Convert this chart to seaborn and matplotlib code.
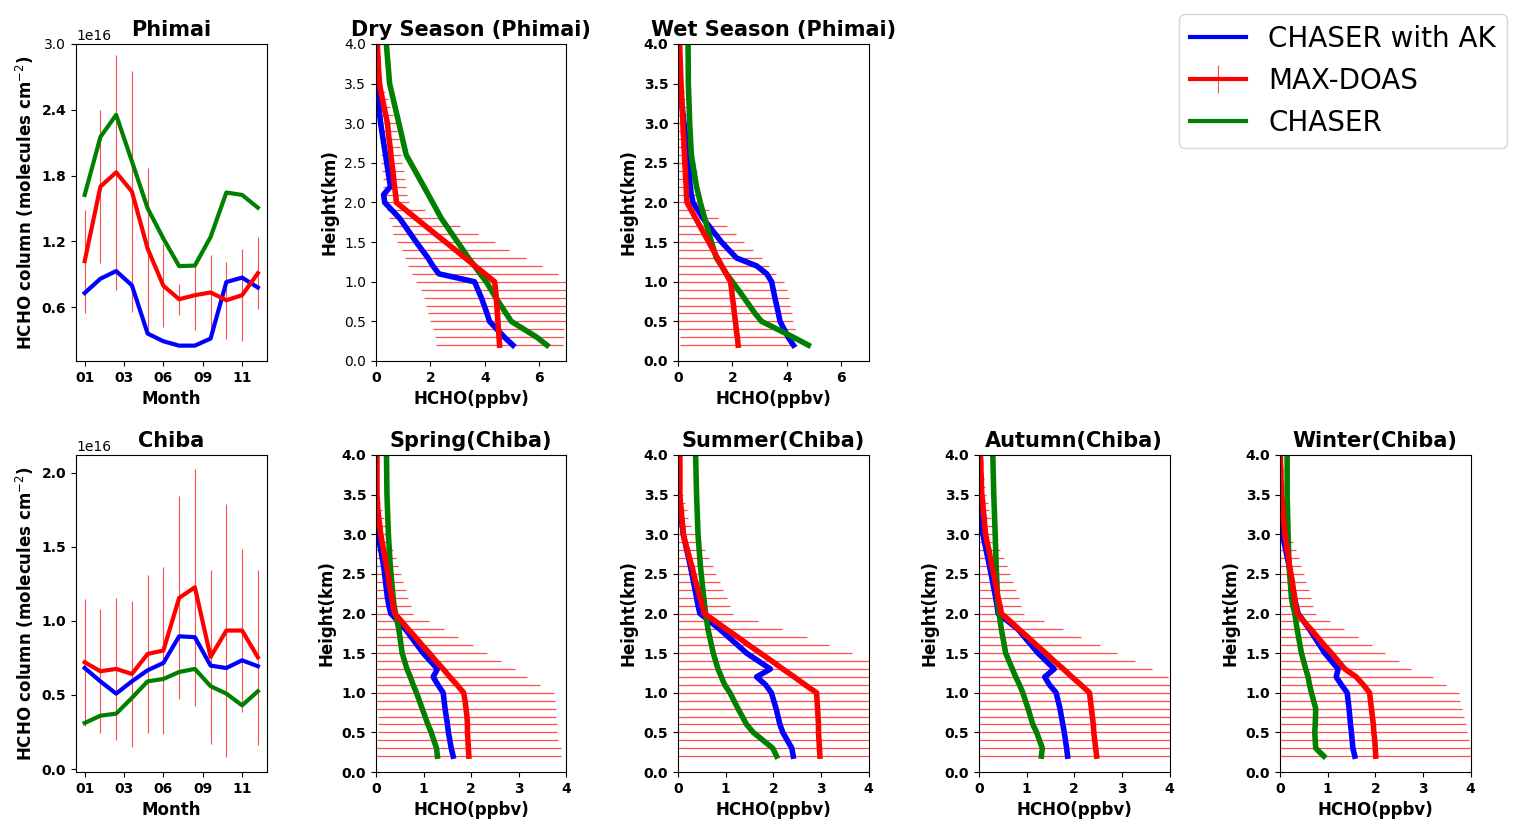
import numpy as np
import matplotlib
matplotlib.use("Agg")
import matplotlib.pyplot as plt
import seaborn as sns

# ---- monthly columns (units of 1e16 molecules cm-2) ----
month_ticks = [0, 2.5, 5, 7.5, 10]
month_labels = ["01", "03", "06", "09", "11"]
month_idx = list(range(12))

phimai_ak = [0.73, 0.86, 0.93, 0.80, 0.36, 0.29, 0.25, 0.25, 0.315, 0.83, 0.87, 0.78]
phimai_doas = [1.02, 1.70, 1.83, 1.655, 1.134, 0.796, 0.673, 0.71, 0.735, 0.664, 0.71, 0.91]
phimai_doas_err = [0.47, 0.70, 1.07, 1.10, 0.74, 0.38, 0.14, 0.32, 0.34, 0.35, 0.42, 0.33]
phimai_chaser = [1.624, 2.152, 2.354, 1.931, 1.502, 1.226, 0.975, 0.98, 1.241, 1.646, 1.624, 1.508]

chiba_ak = [0.682, 0.592, 0.509, 0.592, 0.667, 0.716, 0.896, 0.890, 0.698, 0.682, 0.734, 0.694]
chiba_doas = [0.721, 0.660, 0.676, 0.642, 0.777, 0.800, 1.155, 1.227, 0.757, 0.935, 0.935, 0.755]
chiba_doas_err = [0.43, 0.42, 0.48, 0.49, 0.535, 0.565, 0.685, 0.80, 0.59, 0.856, 0.55, 0.59]
chiba_chaser = [0.311, 0.360, 0.374, 0.480, 0.592, 0.608, 0.655, 0.676, 0.559, 0.509, 0.430, 0.525]

# ---- vertical profiles (ppbv) ----
heights = np.round(np.arange(0.2, 4.01, 0.1), 1)  # MAX-DOAS levels
model_h = [0.2, 0.3, 0.5, 0.6, 0.8, 1.0, 1.1, 1.2, 1.3, 1.5, 1.8, 2.0, 2.1, 2.2, 2.6, 3.0, 3.5, 4.0]

dry_doas = [4.54, 4.52, 4.50, 4.48, 4.46, 4.44, 4.42, 4.39, 4.36, 4.00, 3.64, 3.28, 2.92, 2.56, 2.19, 1.83, 1.47, 1.11, 0.75,
            0.72, 0.68, 0.65, 0.62, 0.58, 0.55, 0.52, 0.48, 0.45, 0.42, 0.36, 0.30, 0.24, 0.18, 0.13, 0.11, 0.09, 0.08, 0.06, 0.05]
dry_err = [2.33, 2.37, 2.41, 2.49, 2.54, 2.59, 2.67, 2.73, 2.90, 2.68, 2.45, 2.23, 1.98, 1.80, 1.55, 1.25, 0.98, 0.70, 0.47,
           0.43, 0.42, 0.40, 0.40, 0.38, 0.37, 0.35, 0.35, 0.34, 0.30, 0.25, 0.22, 0.20, 0.15, 0.10, 0.08, 0.06, 0.05, 0.04, 0.03]
dry_ak = [5.03, 4.72, 4.17, 4.08, 3.87, 3.62, 2.31, 2.09, 1.91, 1.48, 0.87, 0.32, 0.28, 0.53, 0.35, 0.17, 0.0, 0.0]
dry_chaser = [6.28, 5.91, 4.97, 4.78, 4.40, 4.05, 3.83, 3.62, 3.40, 3.00, 2.40, 2.08, 1.92, 1.76, 1.11, 0.84, 0.50, 0.38]

wet_doas = [2.21, 2.18, 2.14, 2.11, 2.07, 2.04, 2.00, 1.97, 1.93, 1.77, 1.61, 1.45, 1.29, 1.13, 0.97, 0.81, 0.65, 0.49, 0.33,
            0.31, 0.30, 0.28, 0.27, 0.25, 0.24, 0.22, 0.21, 0.19, 0.18, 0.17, 0.15, 0.14, 0.13, 0.11, 0.10, 0.09, 0.08, 0.07, 0.06]
wet_err = [2.15, 2.12, 2.16, 2.13, 2.11, 2.08, 2.07, 2.02, 1.96, 1.83, 1.74, 1.62, 1.47, 1.30, 1.16, 1.00, 0.82, 0.65, 0.47,
           0.46, 0.44, 0.43, 0.41, 0.39, 0.36, 0.33, 0.28, 0.24, 0.19, 0.16, 0.14, 0.12, 0.10, 0.08, 0.07, 0.06, 0.05, 0.04, 0.03]
wet_ak = [4.24, 4.05, 3.75, 3.69, 3.56, 3.44, 3.26, 2.89, 2.15, 1.60, 0.92, 0.55, 0.49, 0.45, 0.37, 0.22, 0.06, 0.02]
wet_chaser = [4.79, 4.24, 3.07, 2.83, 2.42, 2.00, 1.78, 1.60, 1.41, 1.23, 0.98, 0.82, 0.75, 0.68, 0.49, 0.43, 0.38, 0.37]

spring_doas = [1.95, 1.94, 1.93, 1.92, 1.92, 1.91, 1.89, 1.87, 1.84, 1.70, 1.55, 1.41, 1.26, 1.12, 0.97, 0.83, 0.68, 0.54, 0.39,
               0.36, 0.33, 0.30, 0.27, 0.25, 0.22, 0.19, 0.16, 0.13, 0.10, 0.08, 0.06, 0.04, 0.03, 0.02, 0.02, 0.02, 0.02, 0.02, 0.02]
spring_err = [1.94, 1.95, 1.90, 1.88, 1.88, 1.87, 1.88, 1.88, 1.89, 1.75, 1.62, 1.50, 1.37, 1.22, 1.06, 0.89, 0.75, 0.57, 0.39,
              0.38, 0.34, 0.32, 0.30, 0.27, 0.24, 0.22, 0.20, 0.17, 0.14, 0.12, 0.10, 0.08, 0.06, 0.05, 0.04, 0.03, 0.02, 0.02, 0.01]
spring_ak = [1.62, 1.58, 1.52, 1.50, 1.45, 1.41, 1.30, 1.20, 1.29, 0.99, 0.62, 0.31, 0.27, 0.24, 0.16, 0.04, 0.0, 0.0]
spring_chaser = [1.29, 1.27, 1.16, 1.09, 0.97, 0.85, 0.78, 0.72, 0.65, 0.55, 0.48, 0.41, 0.38, 0.36, 0.30, 0.26, 0.23, 0.22]

summer_doas = [2.98, 2.97, 2.96, 2.95, 2.95, 2.94, 2.93, 2.92, 2.91, 2.67, 2.44, 2.20, 1.97, 1.73, 1.49, 1.26, 1.02, 0.79, 0.55,
               0.51, 0.46, 0.42, 0.37, 0.33, 0.29, 0.24, 0.20, 0.15, 0.11, 0.10, 0.08, 0.07, 0.05, 0.04, 0.04, 0.04, 0.04, 0.04, 0.04]
summer_err = [3.10, 3.10, 3.10, 3.05, 3.05, 3.00, 3.00, 3.00, 3.00, 2.80, 2.60, 2.40, 2.20, 1.93, 1.69, 1.44, 1.17, 0.89, 0.61,
              0.58, 0.56, 0.53, 0.51, 0.47, 0.45, 0.41, 0.36, 0.34, 0.28, 0.17, 0.14, 0.12, 0.09, 0.07, 0.05, 0.04, 0.03, 0.02, 0.02]
summer_ak = [2.42, 2.39, 2.20, 2.14, 2.06, 1.96, 1.84, 1.65, 1.94, 1.44, 0.88, 0.46, 0.42, 0.39, 0.26, 0.11, 0.01, 0.0]
summer_chaser = [2.07, 1.99, 1.58, 1.44, 1.26, 1.09, 0.98, 0.91, 0.84, 0.74, 0.63, 0.58, 0.56, 0.54, 0.47, 0.42, 0.39, 0.37]

autumn_doas = [2.47, 2.45, 2.43, 2.41, 2.40, 2.38, 2.36, 2.34, 2.32, 2.14, 1.95, 1.77, 1.58, 1.40, 1.21, 1.03, 0.84, 0.66, 0.47,
               0.44, 0.40, 0.37, 0.34, 0.31, 0.27, 0.24, 0.21, 0.17, 0.14, 0.12, 0.11, 0.09, 0.08, 0.06, 0.05, 0.05, 0.04, 0.04, 0.03]
autumn_err = [2.60, 2.60, 2.55, 2.55, 2.50, 2.50, 2.50, 2.45, 2.40, 2.20, 2.01, 1.86, 1.69, 1.49, 1.33, 1.11, 0.92, 0.70, 0.47,
              0.45, 0.44, 0.41, 0.37, 0.35, 0.32, 0.28, 0.24, 0.20, 0.19, 0.17, 0.15, 0.13, 0.11, 0.08, 0.07, 0.05, 0.04, 0.03, 0.02]
autumn_ak = [1.86, 1.84, 1.79, 1.76, 1.70, 1.62, 1.48, 1.38, 1.58, 1.24, 0.82, 0.40, 0.38, 0.35, 0.22, 0.08, 0.01, 0.0]
autumn_chaser = [1.31, 1.33, 1.21, 1.13, 1.03, 0.92, 0.85, 0.77, 0.70, 0.56, 0.47, 0.42, 0.40, 0.39, 0.36, 0.34, 0.31, 0.29]

winter_doas = [2.01, 2.00, 1.99, 1.97, 1.96, 1.94, 1.92, 1.90, 1.88, 1.75, 1.60, 1.36, 1.22, 1.08, 0.93, 0.79, 0.65, 0.50, 0.36,
               0.33, 0.31, 0.28, 0.26, 0.23, 0.20, 0.18, 0.15, 0.13, 0.10, 0.09, 0.07, 0.06, 0.05, 0.03, 0.03, 0.02, 0.02, 0.01, 0.01]
winter_err = [2.05, 2.02, 1.98, 1.96, 1.95, 1.92, 1.91, 1.89, 1.88, 1.73, 1.61, 1.40, 1.27, 1.13, 1.00, 0.85, 0.69, 0.55, 0.40,
              0.36, 0.34, 0.33, 0.29, 0.27, 0.25, 0.22, 0.19, 0.14, 0.12, 0.10, 0.08, 0.06, 0.05, 0.04, 0.03, 0.02, 0.02, 0.01, 0.01]
winter_ak = [1.57, 1.53, 1.50, 1.48, 1.45, 1.41, 1.29, 1.18, 1.22, 0.94, 0.62, 0.38, 0.34, 0.30, 0.19, 0.05, 0.0, 0.0]
winter_chaser = [0.92, 0.75, 0.73, 0.74, 0.75, 0.66, 0.62, 0.59, 0.54, 0.45, 0.36, 0.31, 0.27, 0.24, 0.19, 0.17, 0.15, 0.15]

labels = ["CHASER with AK", "MAX-DOAS", "CHASER"]
err_color = (1, 0, 0, 0.7)

W, H = 1522, 833
fig = plt.figure(figsize=(W / 100, H / 100), dpi=100)


def box(left, top):
    return [left / W, 1 - (top + 317) / H, 190.5 / W, 317 / H]


def bold(items):
    plt.setp(items, fontweight="bold")


def draw_ts(ax, ak, doas, err, chaser, title, ylim, yticks):
    scale = 1e16
    # error bars first so the model lines sit on top of them
    cont = ax.errorbar(month_idx, np.array(doas) * scale, yerr=np.array(err) * scale,
                       color="red", lw=3, ecolor=err_color, elinewidth=0.8)
    sns.lineplot(x=month_idx, y=np.array(ak) * scale, color="blue", lw=3, ax=ax, legend=False)
    sns.lineplot(x=month_idx, y=np.array(chaser) * scale, color="green", lw=3, ax=ax, legend=False)
    ax.set_xticks(month_ticks)
    ax.set_xticklabels(month_labels)
    ax.set_ylim(ylim[0] * scale, ylim[1] * scale)
    ax.set_yticks(np.array(yticks) * scale)
    bold(ax.get_xticklabels())
    bold(ax.get_yticklabels())
    ax.set_title(title, fontsize=15, fontweight="bold")
    ax.set_xlabel("Month", fontsize=12, fontweight="bold")
    ax.set_ylabel("HCHO column (molecules cm$^{-2}$)", fontsize=12, fontweight="bold")
    return cont


def draw_profile(ax, ak, doas, err, chaser, title, xmax, xticks):
    ax.errorbar(doas, heights, xerr=err, color="red", lw=4, ecolor=err_color, elinewidth=0.9)
    sns.lineplot(x=ak, y=model_h, orient="y", color="blue", lw=4, ax=ax, legend=False)
    sns.lineplot(x=chaser, y=model_h, orient="y", color="green", lw=4, ax=ax, legend=False)
    ax.set_xlim(0, xmax)
    ax.set_ylim(0, 4)
    ax.set_xticks(xticks)
    ax.set_yticks(np.arange(0, 4.01, 0.5))
    bold(ax.get_xticklabels())
    bold(ax.get_yticklabels())
    ax.set_title(title, fontsize=15, fontweight="bold")
    ax.set_xlabel("HCHO(ppbv)", fontsize=12, fontweight="bold")
    ax.set_ylabel("Height(km)", fontsize=12, fontweight="bold")


# top row: Phimai
ax = fig.add_axes(box(76, 44))
cont = draw_ts(ax, phimai_ak, phimai_doas, phimai_doas_err, phimai_chaser, "Phimai",
               (0.11, 3.0), [0.6, 1.2, 1.8, 2.4, 3.0])
ax.get_yticklabels()[-1].set_fontweight("normal")
handles = [ax.lines[-2], cont, ax.lines[-1]]

ax = fig.add_axes(box(376, 44))
draw_profile(ax, dry_ak, dry_doas, dry_err, dry_chaser, "Dry Season (Phimai)", 7, [0, 2, 4, 6])
plt.setp(ax.get_yticklabels(), fontweight="normal")

ax = fig.add_axes(box(678, 44))
draw_profile(ax, wet_ak, wet_doas, wet_err, wet_chaser, "Wet Season (Phimai)", 7, [0, 2, 4, 6])

# bottom row: Chiba
ax = fig.add_axes(box(76, 455))
draw_ts(ax, chiba_ak, chiba_doas, chiba_doas_err, chiba_chaser, "Chiba",
        (-0.02, 2.12), [0.0, 0.5, 1.0, 1.5, 2.0])

seasons = [
    ("Spring(Chiba)", spring_ak, spring_doas, spring_err, spring_chaser, 376),
    ("Summer(Chiba)", summer_ak, summer_doas, summer_err, summer_chaser, 678),
    ("Autumn(Chiba)", autumn_ak, autumn_doas, autumn_err, autumn_chaser, 979),
    ("Winter(Chiba)", winter_ak, winter_doas, winter_err, winter_chaser, 1280),
]
for title, ak, doas, err, chaser, left in seasons:
    ax = fig.add_axes(box(left, 455))
    draw_profile(ax, ak, doas, err, chaser, title, 4, [0, 1, 2, 3, 4])

fig.legend(handles, labels, loc="upper right", bbox_to_anchor=(1507 / W, 1 - 14 / H),
           borderaxespad=0, fontsize=20)

fig.savefig("out.png", dpi=100)
